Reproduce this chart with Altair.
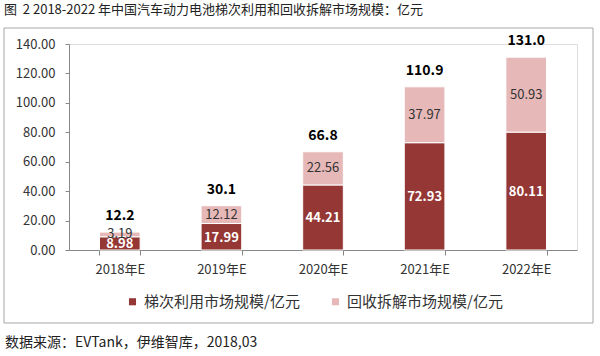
import altair as alt
import pandas as pd

years = ["2018年E", "2019年E", "2020年E", "2021年E", "2022年E"]
cascade = [8.98, 17.99, 44.21, 72.93, 80.11]
recycle = [3.19, 12.12, 22.56, 37.97, 50.93]
series = ["梯次利用市场规模/亿元", "回收拆解市场规模/亿元"]
colors = ["#953735", "#E6B9B8"]
y_ticks = [0, 20, 40, 60, 80, 100, 120, 140]

title_text = "图\u00a0\u00a02 2018-2022 年中国汽车动力电池梯次利用和回收拆解市场规模：亿元"
source_text = "数据来源：EVTank，伊维智库，2018,03"

FONT = "Noto Sans CJK SC"

rows = []
for i, y in enumerate(years):
    rows.append({"year": y, "series": series[0], "order": 0, "value": cascade[i]})
    rows.append({"year": y, "series": series[1], "order": 1, "value": recycle[i]})
df = pd.DataFrame(rows)

base = alt.Chart(df).transform_stack(
    stack="value", groupby=["year"], as_=["v0", "v1"], sort=[alt.SortField("order")]
).transform_calculate(
    mid="(datum.v0 + datum.v1) / 2"
)

x_axis = alt.Axis(labelAngle=0, tickBand="extent", tickSize=5,
                  domainColor="#888888", tickColor="#888888",
                  labelFont=FONT, labelFontSize=13, labelColor="#333333",
                  labelPadding=8)
y_axis = alt.Axis(values=y_ticks, format=".2f", grid=False, tickSize=4,
                  labelOverlap=False,
                  domainColor="#888888", tickColor="#888888",
                  labelFont=FONT, labelFontSize=13, labelColor="#333333",
                  labelPadding=10)
y_scale = alt.Scale(domain=[0, 140], nice=False)
x_scale = alt.Scale(paddingInner=0.6, paddingOuter=0.3)


def xe():
    return alt.X("year:N", sort=years, title=None, scale=x_scale, axis=x_axis)


def ye(field):
    return alt.Y(field, title=None, scale=y_scale, axis=y_axis)


bars = base.mark_bar(stroke="white", strokeWidth=1).encode(
    x=xe(),
    y=ye("v0:Q"),
    y2="v1:Q",
    color=alt.Color("series:N", sort=series,
                    scale=alt.Scale(domain=series, range=colors),
                    legend=alt.Legend(title=None, orient="none", direction="horizontal",
                                      legendX=56, legendY=250, symbolType="square",
                                      symbolSize=50, symbolStrokeWidth=0,
                                      labelFont=FONT, labelFontSize=15,
                                      labelColor="#333333", labelLimit=300,
                                      columnPadding=28, labelOffset=4)),
)

dark_labels = base.transform_filter(alt.datum.order == 0).mark_text(
    font=FONT, fontSize=13, fontWeight="bold", color="#FFFFFF", dy=1).encode(
    x=xe(),
    y=ye("mid:Q"),
    text=alt.Text("value:Q", format=".2f"),
)

light_labels = base.transform_filter(alt.datum.order == 1).mark_text(
    font=FONT, fontSize=13, color="#333333").encode(
    x=xe(),
    y=ye("mid:Q"),
    text=alt.Text("value:Q", format=".2f"),
)

totals = alt.Chart(df).transform_aggregate(
    total="sum(value)", groupby=["year"]
).mark_text(font=FONT, fontSize=14, fontWeight="bold", color="#000000", dy=-16).encode(
    x=xe(),
    y=ye("total:Q"),
    text=alt.Text("total:Q", format=".1f"),
)

one = alt.Data(values=[{"a": 1}])

frame = alt.Chart(one).mark_rect(fill=None, stroke="#A6A6A6", strokeWidth=1).encode(
    x=alt.value(-65), x2=alt.value(524), y=alt.value(-16), y2=alt.value(279)
)

title = alt.Chart(one).mark_text(font=FONT, fontSize=13, align="left", baseline="middle",
                                 color="#222222").encode(
    x=alt.value(-65), y=alt.value(-34), text=alt.value(title_text)
)

source = alt.Chart(one).mark_text(font=FONT, fontSize=14, align="left", baseline="middle",
                                  color="#222222").encode(
    x=alt.value(-64), y=alt.value(299), text=alt.value(source_text)
)

chart = alt.layer(frame, bars, dark_labels, light_labels, totals, title, source).properties(
    width=508, height=206,
    autosize=alt.AutoSizeParams(type="none"),
    padding={"left": 69, "top": 44, "right": 23, "bottom": 106},
).configure_view(stroke=None).configure(background="white")

chart.save("out.html", embed_options={"renderer": "svg", "actions": False})
